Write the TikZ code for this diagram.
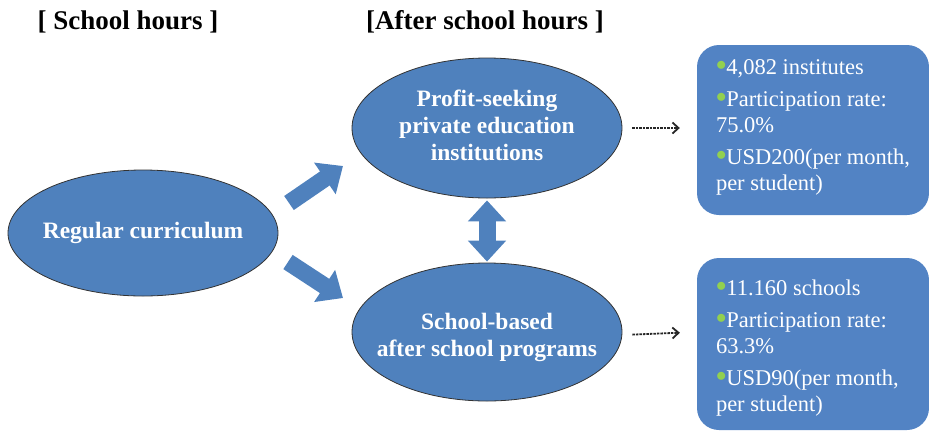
\documentclass[tikz,border=0pt]{standalone}
\usepackage{fontspec}
\setmainfont{Liberation Serif}
\usetikzlibrary{shapes.geometric,arrows.meta}
\definecolor{ovalblue}{HTML}{4F81BD}
\definecolor{boxblue}{HTML}{5283C4}
\definecolor{dotgreen}{HTML}{92D050}
\newcommand{\gdot}{\textcolor{dotgreen}{\raisebox{0.35ex}{\fontsize{21}{21}\selectfont$\bullet$}}}

\begin{document}
\begin{tikzpicture}[x=1pt,y=-1pt,
   oval/.style={ellipse, draw=black!80, line width=0.8pt, fill=ovalblue, inner sep=0pt,
      minimum width=270pt},
   ovaltext/.style={text=white, align=center, font=\fontsize{23.5}{27}\selectfont\bfseries},
   infobox/.style={rectangle, rounded corners=22pt, fill=boxblue, minimum width=232pt},
   infotext/.style={anchor=west, xshift=19pt, yshift=3pt, inner sep=0pt,
      text=white, align=left, font=\fontsize{22.5}{26}\selectfont},
   heading/.style={font=\fontsize{27}{28}\selectfont\bfseries},
   blockarrow/.style={draw=ovalblue, line width=17pt, -{Triangle[length=22pt,width=37pt]}},
   dblarrow/.style={draw=ovalblue, line width=17pt, {Triangle[length=21pt,width=37pt]}-{Triangle[length=21pt,width=37pt]}},
   dasharrow/.style={draw=black!85, line width=1.8pt, dash pattern=on 2.5pt off 1pt,
      -{Straight Barb[length=6pt,width=11pt]}}]

   \useasboundingbox (0,0) rectangle (929,432);

   % headings
   \node[heading] (schoolhrs) at (128,22) {[ School hours ]};
   \node[heading] (afterhrs) at (485,22) {[After school hours ]};

   % ovals
   \node[oval, minimum height=126pt, label={[ovaltext]center:Regular curriculum}] (regular) at (143,233) {};
   \node[oval, minimum height=140pt, label={[ovaltext, yshift=3pt]center:Profit-seeking\\private education\\institutions}] (profit) at (487,128) {};
   \node[oval, minimum height=138pt, label={[ovaltext, yshift=-5pt]center:School-based\\after school programs}] (school) at (487,332) {};

   % boxes
   \node[infobox, minimum height=170pt,
      label={[infotext]west:\gdot4,082 institutes\\[6pt]\gdot Participation rate:\\75.0\%\\[6pt]\gdot USD200(per month,\\per student)}]
      (info1) at (813,130) {};
   \node[infobox, minimum height=172pt,
      label={[infotext, yshift=-7pt]west:\gdot11.160 schools\\[6pt]\gdot Participation rate:\\63.3\%\\[6pt]\gdot USD90(per month,\\per student)}]
      (info2) at (813,344) {};

   % block arrows
   \coordinate (uptail) at (289,203);
   \coordinate (uphead) at (343,166);
   \coordinate (lowtail) at (288,262);
   \coordinate (lowhead) at (343,298);
   \draw[blockarrow] (uptail) -- (uphead);
   \draw[blockarrow] (lowtail) -- (lowhead);
   \draw[dblarrow, shorten <=2pt, shorten >=1pt] (profit.south) -- (school.north);

   % dashed arrows
   \draw[dasharrow, shorten <=10pt, shorten >=17pt] (profit.east) -- (profit.east -| info1.west);
   \draw[dasharrow, shorten <=10pt, shorten >=17pt] (school.east) ++(0,3) -- (school.east -| info2.west);

\end{tikzpicture}
\end{document}
